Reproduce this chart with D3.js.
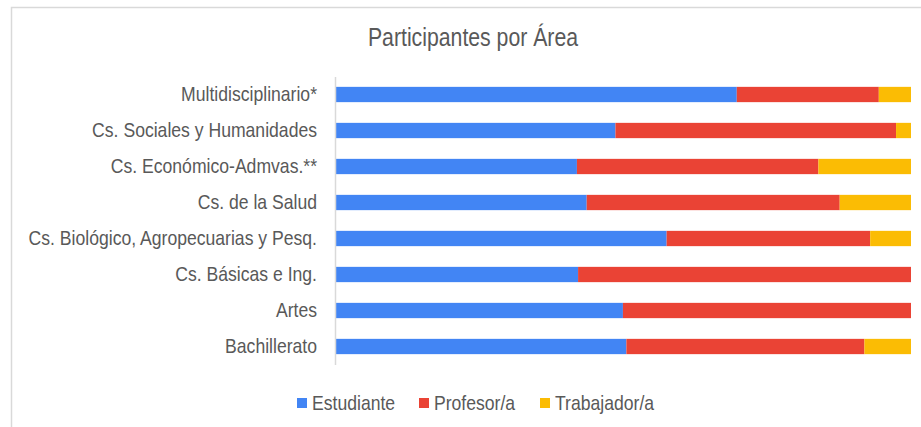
<!DOCTYPE html>
<html>
<head>
<meta charset="utf-8">
<script src="https://cdn.jsdelivr.net/npm/d3@7"></script>
<style>
  body { margin: 0; background: #fff; }
  text { font-family: "Liberation Sans", Arial, sans-serif; fill: #595959; }
</style>
</head>
<body>
<div id="chart"></div>
<script>
// categories (top to bottom)
var areas = ["Multidisciplinario*", "Cs. Sociales y Humanidades", "Cs. Económico-Admvas.**",
             "Cs. de la Salud", "Cs. Biológico, Agropecuarias y Pesq.", "Cs. Básicas e Ing.",
             "Artes", "Bachillerato"];

// share of participants per area (%)
var estudiante = [69.7, 48.6, 41.9, 43.6, 57.5, 42.1, 49.9, 50.5];
var profesor   = [24.7, 48.8, 42.0, 44.0, 35.4, 57.9, 50.1, 41.4];
var trabajador = [ 5.6,  2.6, 16.1, 12.4,  7.1,  0.0,  0.0,  8.1];

var seriesNames = ["Estudiante", "Profesor/a", "Trabajador/a"];
var colors = ["#4285F4", "#EA4335", "#FBBC04"];

var w = 921;
var h = 427;
var squeeze = 0.88; // the picture's text is narrower than Liberation Sans

var rows = areas.map(function(a, i) {
    return { area: a, "Estudiante": estudiante[i], "Profesor/a": profesor[i], "Trabajador/a": trabajador[i] };
});

var svg = d3.select("#chart")
            .append("svg")
            .attr("width", w)
            .attr("height", h);

// frame (only top and left edges are visible in the picture)
svg.append("path")
   .attr("d", "M11.5," + h + "V7.5H" + w)
   .attr("fill", "none")
   .attr("stroke", "#d9d9d9")
   .attr("stroke-width", 1.5);

svg.append("text")
   .attr("transform", "translate(473,46) scale(0.85,1)")
   .attr("text-anchor", "middle")
   .style("font-size", "25px")
   .text("Participantes  por Área");

var x = d3.scaleLinear().domain([0, 1]).range([336, 911]);
var y = d3.scaleBand().domain(areas).range([76.5, 364.5])
          .paddingInner(0.575).paddingOuter(0.2875);

var stack = d3.stack().keys(seriesNames).offset(d3.stackOffsetExpand);
var layers = stack(rows);

svg.selectAll("g.layer")
   .data(layers)
   .enter()
   .append("g")
   .attr("class", "layer")
   .attr("fill", function(d, i) { return colors[i]; })
   .selectAll("rect")
   .data(function(d) { return d; })
   .enter()
   .append("rect")
   .attr("x", function(d) { return x(d[0]); })
   .attr("y", function(d) { return y(d.data.area); })
   .attr("width", function(d) { return x(d[1]) - x(d[0]); })
   .attr("height", y.bandwidth());

// category axis
var yAxis = svg.append("g")
   .attr("transform", "translate(335,0)")
   .call(d3.axisLeft(y).tickSize(0).tickPadding(17));
yAxis.select(".domain").attr("stroke", "#d9d9d9").attr("stroke-width", 1.5);
yAxis.selectAll("text")
   .style("font-size", "20px")
   .attr("fill", "#595959")
   .attr("x", -18 / squeeze)
   .attr("transform", "scale(" + squeeze + ",1)");

// legend
var legendX = [297, 419, 540];
var legend = svg.selectAll("g.legend")
   .data(seriesNames)
   .enter()
   .append("g")
   .attr("class", "legend")
   .attr("transform", function(d, i) { return "translate(" + legendX[i] + ",398)"; });

legend.append("rect")
   .attr("width", 10)
   .attr("height", 10)
   .attr("fill", function(d, i) { return colors[i]; });

legend.append("text")
   .attr("transform", "translate(15,12) scale(" + squeeze + ",1)")
   .style("font-size", "20px")
   .text(function(d) { return d; });
</script>
</body>
</html>
